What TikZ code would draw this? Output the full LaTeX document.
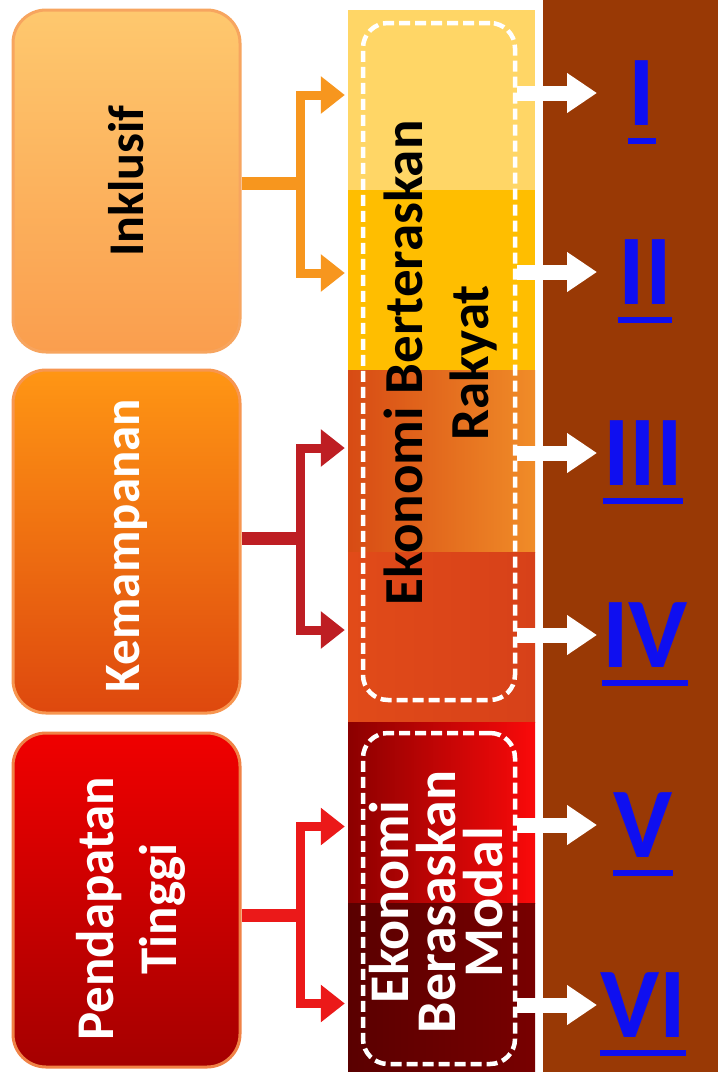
\documentclass[tikz,border=0pt]{standalone}
\usepackage{fontspec}
\setmainfont{Carlito}
\usetikzlibrary{arrows.meta,calc}
\definecolor{bgbrown}{RGB}{153,57,5}
\definecolor{numblue}{RGB}{15,15,240}
\definecolor{cInk}{RGB}{247,150,30}
\definecolor{cKem}{RGB}{190,30,35}
\definecolor{cPen}{RGB}{235,25,25}
\definecolor{bordA}{RGB}{247,165,95}
\definecolor{bordB}{RGB}{247,150,80}
\definecolor{bordC}{RGB}{240,130,70}
\tikzset{
  seg/.style={draw=none, inner sep=0, minimum width=187pt},
  pillar/.style={rounded corners=33pt, line width=3pt, inner sep=0, minimum width=227pt},
  boxtext/.style={rotate=90, align=center, inner sep=0, font=\bfseries\fontsize{50}{63}\selectfont},
  dashbox/.style={draw=white, line width=4.5pt, dash pattern=on 11pt off 5pt, rounded corners=25pt, inner sep=0, minimum width=152pt},
  bar/.style={line width=13pt},
  feed/.style={line width=9pt, -{Triangle[length=24pt,width=36pt]}},
  wfeed/.style={draw=white, line width=15pt, -{Triangle[length=30pt,width=38pt]}},
  numst/.style={text=numblue, inner sep=0, font=\bfseries\fontsize{100}{100}\selectfont},
  uline/.style={draw=numblue, line width=6pt}
}
\begin{document}
\begin{tikzpicture}[x=1pt,y=-1pt]
\useasboundingbox (0,0) rectangle (718,1072);
\fill[white] (0,0) rectangle (718,1072);
\fill[bgbrown] (543,0) rectangle (718,1072);

% column segments
\node[seg, minimum height=180pt, fill={rgb,255:red,255;green,214;blue,102}] (s1) at (441.5,100) {};
\node[seg, minimum height=180pt, fill={rgb,255:red,255;green,190;blue,0}] (s2) at (441.5,280) {};
\node[seg, minimum height=182pt, left color={rgb,255:red,215;green,75;blue,20}, middle color={rgb,255:red,248;green,135;blue,35}, right color={rgb,255:red,240;green,140;blue,40}] (s3) at (441.5,461) {};
\node[seg, minimum height=170pt, left color={rgb,255:red,225;green,75;blue,25}, middle color={rgb,255:red,245;green,100;blue,40}, right color={rgb,255:red,215;green,65;blue,25}] (s4) at (441.5,637) {};
\node[seg, minimum height=181pt, left color={rgb,255:red,140;green,0;blue,0}, middle color={rgb,255:red,215;green,0;blue,0}, right color={rgb,255:red,250;green,10;blue,10}] (s5) at (441.5,812.5) {};
\node[seg, minimum height=169pt, left color={rgb,255:red,90;green,0;blue,0}, right color={rgb,255:red,120;green,0;blue,0}] (s6) at (441.5,987.5) {};

% dashed frames
\node[dashbox, minimum height=677pt] (d1) at (439,361.5) {};
\node[dashbox, minimum height=331pt] (d2) at (439,898.5) {};

\node[boxtext, font=\bfseries\fontsize{55}{66}\selectfont, text=black] (t1) at (441,363) {Ekonomi Berteraskan\\Rakyat};
\node[boxtext, font=\bfseries\fontsize{56}{47}\selectfont, text=white] (t2) at (436,902) {Ekonomi\\Berasaskan\\Modal};

% left pillars
\node[pillar, draw=bordA, minimum height=342pt, top color={rgb,255:red,254;green,200;blue,110}, bottom color={rgb,255:red,250;green,158;blue,78}] (inkl) at (126.5,181) {};
\node[pillar, draw=bordB, minimum height=343pt, top color={rgb,255:red,255;green,150;blue,20}, bottom color={rgb,255:red,222;green,72;blue,14}] (kemp) at (126.5,541.5) {};
\node[pillar, draw=bordC, minimum height=334pt, top color={rgb,255:red,240;green,0;blue,0}, bottom color={rgb,255:red,165;green,0;blue,0}] (pend) at (126.5,900) {};

\node[boxtext, text=black] (inklT) at (inkl.center) {Inklusif};
\node[boxtext, font=\bfseries\fontsize{51}{63}\selectfont, text=white] (kempT) at ([yshift=-4pt]kemp.center) {Kemampanan};
\node[boxtext, font=\bfseries\fontsize{53}{63}\selectfont, text=white] (pendT) at ([xshift=4pt,yshift=-9pt]pend.center) {Pendapatan\\Tinggi};

% connectors from pillars
\coordinate (j1) at (300,183);
\coordinate (j2) at (300,538);
\coordinate (j3) at (300,915);
\draw[cInk, bar] (inkl.east |- j1) -- (j1);
\draw[cInk, feed] ([yshift=-4pt]j1) |- ($(s1.west)+(-3,-5)$);
\draw[cInk, feed] ([yshift=4pt]j1) |- ($(s2.west)+(-3,-7)$);
\draw[cKem, bar] (kemp.east |- j2) -- (j2);
\draw[cKem, feed] ([yshift=-4pt]j2) |- ($(s3.west)+(-3,-13)$);
\draw[cKem, feed] ([yshift=4pt]j2) |- ($(s4.west)+(-3,-7)$);
\draw[cPen, bar] (pend.east |- j3) -- (j3);
\draw[cPen, feed] ([yshift=-4pt]j3) |- ($(s5.west)+(-3,14)$);
\draw[cPen, feed] ([yshift=4pt]j3) |- ($(s6.west)+(-3,16)$);

% numerals
\node[numst] (n1) at (642,93) {I};
\node[numst] (n2) at (645,272) {II};
\node[numst] (n3) at (643,453) {III};
\node[numst] (n4) at (645,635) {IV};
\node[numst] (n5) at (643,825) {V};
\node[numst] (n6) at (643,1005) {VI};
\foreach \n in {n1,n2,n3,n4,n5,n6}{
  \draw[uline] ($(\n.south west)+(0,15)$) -- ($(\n.south east)+(0,15)$);
}

% white arrows
\coordinate (tx) at (597,0);
\draw[wfeed] (d1.east |- n1) -- (tx |- n1);
\draw[wfeed] (d1.east |- n2) -- (tx |- n2);
\draw[wfeed] (d1.east |- n3) -- (tx |- n3);
\draw[wfeed] (d1.east |- n4) -- (tx |- n4);
\draw[wfeed] (d2.east |- n5) -- (tx |- n5);
\draw[wfeed] (d2.east |- n6) -- (tx |- n6);
\end{tikzpicture}
\end{document}
